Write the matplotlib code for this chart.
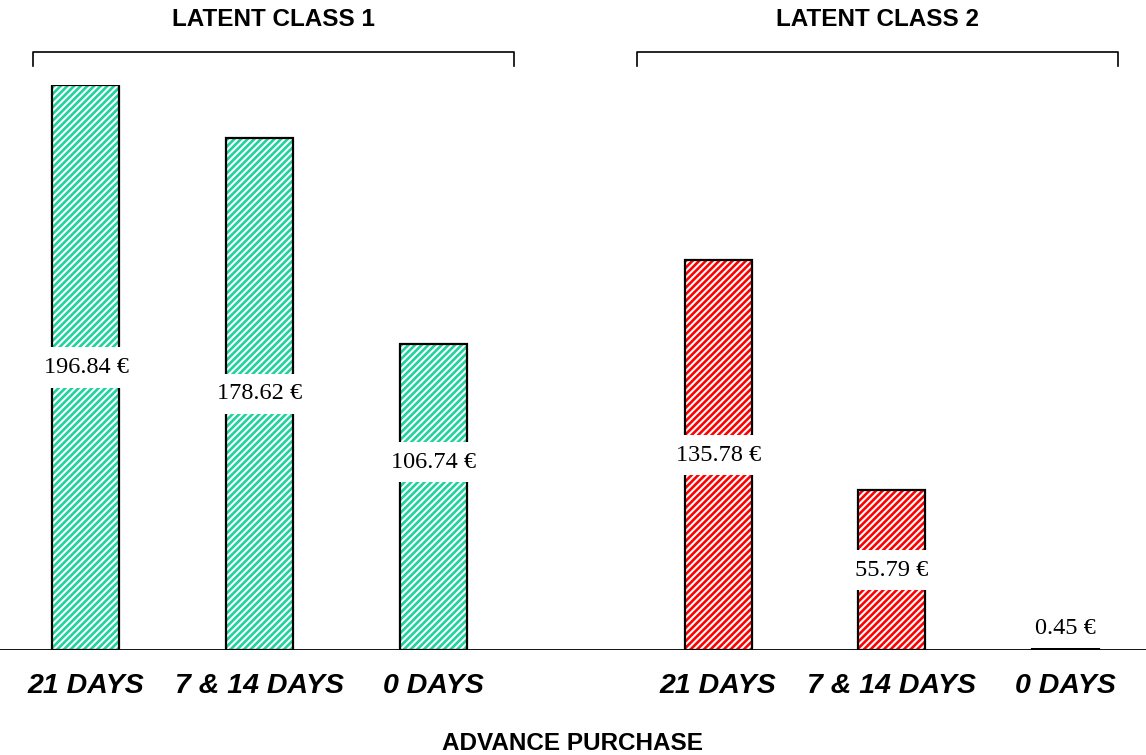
import matplotlib
matplotlib.use("Agg")
import matplotlib.pyplot as plt

# Willingness to pay by advance purchase, two latent classes
categories = ["21 DAYS", "7 & 14 DAYS", "0 DAYS"]
class1_values = [196.84, 178.62, 106.74]
class2_values = [135.78, 55.79, 0.45]
class_titles = ["LATENT CLASS 1", "LATENT CLASS 2"]

plt.rcParams["hatch.linewidth"] = 1.9

fig = plt.figure(figsize=(11.46, 7.55), dpi=100)
ax = fig.add_axes([0, 0.139, 1, 0.748])

pos1 = [0, 1, 2]
pos2 = [3.64, 4.64, 5.64]
width = 0.386

green = "#1fd39e"
red = "#ff0000"

for pos, vals, col in [(pos1, class1_values, green), (pos2, class2_values, red)]:
    ax.bar(pos, vals, width=width, facecolor="white", edgecolor=col,
           hatch="/////", linewidth=0, zorder=2)
    ax.bar(pos, vals, width=width, facecolor="none", edgecolor="black",
           linewidth=1.6, zorder=3)

# value labels, mostly centred on the bar
label_y = [v / 2 for v in class1_values + class2_values]
label_y[2] = 65.5
label_y[5] = 7.6
for x, v, y in zip(pos1 + pos2, class1_values + class2_values, label_y):
    ax.text(x, y, f"{v:.2f} €", ha="center", va="center",
            fontsize=17.5, family="Liberation Serif", zorder=4,
            bbox=dict(boxstyle="square,pad=0.4", facecolor="white",
                      edgecolor="none"))

ax.axhline(0, color="black", linewidth=1.3, zorder=5)

# brackets and class titles above each group
brackets = [(-0.305, 2.464), (3.172, 5.941)]
for (x0, x1), title in zip(brackets, class_titles):
    ax.plot([x0, x0, x1, x1], [203.5, 208.3, 208.3, 203.5],
            color="black", linewidth=1.2, clip_on=False)
    ax.text((x0 + x1) / 2, 219.8, title, ha="center", va="center",
            fontsize=17.5, fontweight="bold", family="Liberation Sans")

ax.set_xlim(-0.495, 6.103)
ax.set_ylim(0, 196.84)
ax.set_xticks(pos1 + pos2)
ax.set_xticklabels(categories + categories, fontsize=20.5, fontweight="bold",
                   fontstyle="italic", family="Liberation Sans")
ax.tick_params(axis="x", length=0, pad=16.5)
ax.set_yticks([])
for s in ax.spines.values():
    s.set_visible(False)

fig.text(0.5, 1 - 743 / 755, "ADVANCE PURCHASE", ha="center", va="center",
         fontsize=17.5, fontweight="bold", family="Liberation Sans")

fig.savefig("out.png", dpi=100)
